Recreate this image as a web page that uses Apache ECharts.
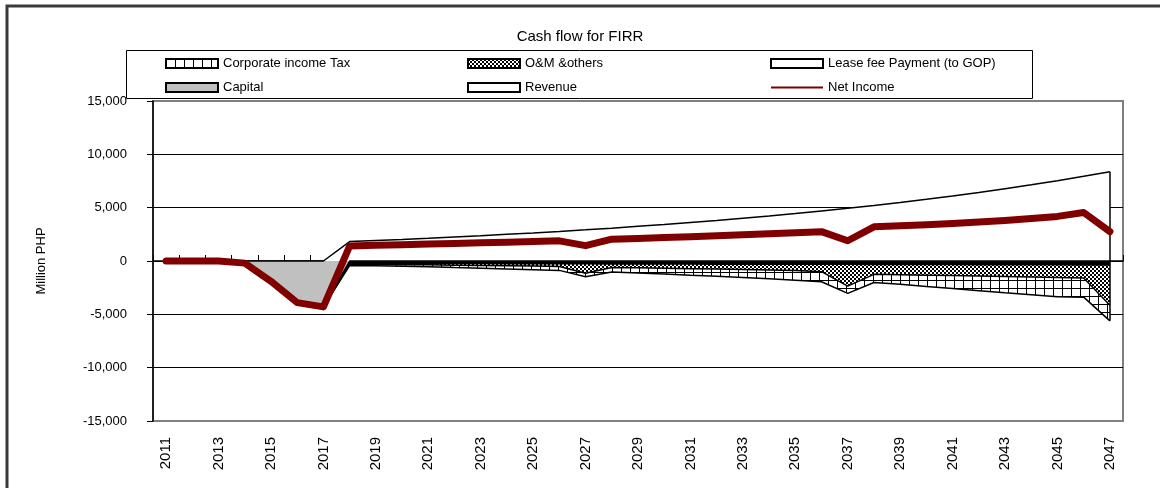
<!DOCTYPE html>
<html>
<head>
<meta charset="utf-8">
<title>Cash flow for FIRR</title>
<script src="https://cdn.jsdelivr.net/npm/echarts@6/dist/echarts.min.js"></script>
<style>
  html, body { margin: 0; padding: 0; background: #fff; }
  #chart { width: 1160px; height: 488px; }
</style>
</head>
<body>
<div id="chart"></div>
<script>
// categories
const years = ['2011', '2012', '2013', '2014', '2015', '2016', '2017', '2018', '2019', '2020',
  '2021', '2022', '2023', '2024', '2025', '2026', '2027', '2028', '2029', '2030',
  '2031', '2032', '2033', '2034', '2035', '2036', '2037', '2038', '2039', '2040',
  '2041', '2042', '2043', '2044', '2045', '2046', '2047']

// Million PHP
const capital = [0, 0, 0, -200, -1900, -3900, -4300,
  0, 0, 0, 0, 0, 0, 0, 0, 0, 0, 0, 0, 0, 0,
  0, 0, 0, 0, 0, 0, 0, 0, 0, 0, 0, 0, 0, 0, 0, 0]
const leaseFee = [0, 0, 0, 0, 0, 0, 0,
  -200, -200, -210, -210, -220, -220, -230, -230, -240, -240, -250, -250, -260, -260,
  -270, -270, -280, -280, -290, -290, -300, -300, -310, -310, -320, -320, -330, -330, -340, -340]
const omOthers = [0, 0, 0, 0, 0, 0, 0,
  -100, -120, -130, -150, -170, -200, -220, -250, -280, -910, -350, -390, -420, -460,
  -490, -530, -570, -620, -710, -2060, -950, -990, -1020, -1060, -1090, -1130, -1170, -1220, -1260, -3810]
const corpTax = [0, 0, 0, 0, 0, 0, 0,
  -120, -130, -150, -180, -220, -250, -290, -330, -360, -330, -430, -490, -540, -610,
  -670, -750, -820, -900, -940, -690, -760, -900, -1060, -1210, -1370, -1530, -1660, -1800, -1790, -1460]
const revenue = [0, 0, 0, 0, 0, 0, 0,
  1820, 1920, 2020, 2130, 2250, 2370, 2500, 2630, 2770, 2920, 3080, 3250, 3420, 3610,
  3800, 4010, 4220, 4450, 4690, 4940, 5210, 5490, 5790, 6100, 6430, 6780, 7140, 7530, 7940, 8360]
const netIncome = [0, 0, 0, -200, -1900, -3900, -4300,
  1400, 1470, 1530, 1590, 1640, 1700, 1760, 1820, 1890, 1440, 2050, 2120, 2200, 2280,
  2370, 2460, 2550, 2650, 2750, 1900, 3200, 3300, 3400, 3520, 3650, 3800, 3980, 4180, 4550, 2750]

// y axis ticks
const yTicks = [-15000, -10000, -5000, 0, 5000, 10000, 15000]

const FONT = "'Liberation Sans', Arial, sans-serif"

function makePattern(w, h, draw) {
  const c = document.createElement('canvas')
  c.width = w
  c.height = h
  const ctx = c.getContext('2d')
  ctx.fillStyle = '#fff'
  ctx.fillRect(0, 0, w, h)
  ctx.fillStyle = '#000'
  draw(ctx)
  return { image: c, repeat: 'repeat' }
}

const taxPattern = makePattern(9, 8, ctx => {
  ctx.fillRect(0, 0, 1, 8)
  ctx.fillRect(0, 0, 9, 1)
})
const checkPattern = makePattern(4, 4, ctx => {
  ctx.fillRect(0, 0, 2, 2)
  ctx.fillRect(2, 2, 2, 2)
})

const last = years.length - 1
const costBottom = leaseFee[last] + omOthers[last] + corpTax[last]

const chart = echarts.init(document.getElementById('chart'))

const legendBase = {
  orient: 'vertical',
  itemWidth: 52,
  itemHeight: 9,
  itemGap: 11,
  padding: 0,
  selectedMode: false,
  textStyle: { fontFamily: FONT, fontSize: 13, color: '#000' }
}
const box = (name, color) => ({
  name,
  icon: 'rect',
  itemStyle: { color, borderColor: '#000', borderWidth: 2 }
})

// costs share one stack, capital at the bottom like the original sheet
const areaSeries = (name, data, color, lineWidth) => ({
  name,
  type: 'line',
  stack: 'cost',
  data,
  symbol: 'none',
  silent: true,
  lineStyle: { color: '#000', width: lineWidth },
  areaStyle: { color, opacity: 1 }
})

chart.setOption({
  backgroundColor: '#fff',
  animation: false,
  title: {
    text: 'Cash flow for FIRR',
    left: 'center',
    top: 24,
    textStyle: { fontFamily: FONT, fontSize: 15, fontWeight: 'normal', color: '#000' }
  },
  graphic: [
    {
      type: 'rect',
      shape: { x: 7, y: 6, width: 1300, height: 700 },
      style: { fill: 'none', stroke: '#3a3a3a', lineWidth: 3 }
    },
    {
      type: 'rect',
      shape: { x: 126.5, y: 50.5, width: 906, height: 48 },
      style: { fill: '#fff', stroke: '#000', lineWidth: 1 }
    }
  ],
  legend: [
    { ...legendBase, left: 165, top: 57, data: [box('Corporate income Tax', taxPattern), box('Capital', '#c0c0c0')] },
    { ...legendBase, left: 467, top: 57, data: [box('O&M &others', checkPattern), box('Revenue', '#fff')] },
    {
      ...legendBase, left: 770, top: 57,
      data: [
        box('Lease fee Payment (to GOP)', '#fff'),
        { name: 'Net Income', icon: 'line', itemStyle: { color: '#800000', borderColor: '#800000', borderWidth: 2 } }
      ]
    }
  ],
  grid: {
    left: 153,
    right: 37,
    top: 101,
    bottom: 67,
    show: true,
    borderColor: '#808080',
    borderWidth: 2,
    backgroundColor: 'transparent',
    outerBoundsMode: 'none'
  },
  xAxis: [
    {
      type: 'category',
      data: years,
      boundaryGap: true,
      position: 'bottom',
      axisLine: { onZero: true, lineStyle: { color: '#000', width: 1.5 } },
      axisTick: { show: true, inside: true, length: 6, interval: 0, lineStyle: { color: '#000' } },
      axisLabel: { show: false },
      splitLine: { show: false }
    },
    {
      type: 'category',
      data: years,
      boundaryGap: true,
      position: 'bottom',
      axisLine: { show: false, onZero: false },
      axisTick: { show: false },
      axisLabel: { interval: 1, rotate: 90, margin: 16, fontFamily: FONT, fontSize: 15, color: '#000' },
      splitLine: { show: false }
    }
  ],
  yAxis: {
    type: 'value',
    min: yTicks[0],
    max: yTicks[yTicks.length - 1],
    interval: yTicks[1] - yTicks[0],
    name: 'Million PHP',
    nameLocation: 'middle',
    nameGap: 105,
    nameTextStyle: { fontFamily: FONT, fontSize: 13, color: '#000' },
    axisLine: { show: true, lineStyle: { color: '#000', width: 1.5 } },
    axisTick: { show: true, length: 6, lineStyle: { color: '#000' } },
    axisLabel: {
      margin: 26,
      fontFamily: FONT,
      fontSize: 13,
      color: '#000',
      formatter: v => v.toLocaleString('en-US')
    },
    splitLine: {
      show: true,
      lineStyle: { color: ['#808080', '#000', '#000', '#000', '#000', '#000', '#808080'], width: 1 }
    }
  },
  series: [
    areaSeries('Capital', capital, '#c0c0c0', 1.5),
    areaSeries('Lease fee Payment (to GOP)', leaseFee, '#000', 2),
    areaSeries('O&M &others', omOthers, checkPattern, 1.5),
    areaSeries('Corporate income Tax', corpTax, taxPattern, 1.5),
    {
      name: 'Revenue',
      type: 'line',
      data: revenue,
      symbol: 'none',
      silent: true,
      lineStyle: { color: '#000', width: 1.5 },
      areaStyle: { color: '#fff', opacity: 1 },
      markLine: {
        silent: true,
        symbol: ['none', 'none'],
        label: { show: false },
        lineStyle: { color: '#000', width: 1.5, type: 'solid' },
        data: [[{ coord: [years[last], revenue[last]] }, { coord: [years[last], costBottom] }]]
      }
    },
    {
      name: 'Net Income',
      type: 'line',
      data: netIncome,
      symbol: 'none',
      silent: true,
      z: 5,
      lineStyle: { color: '#800000', width: 7, join: 'round', cap: 'round' }
    }
  ]
})
</script>
</body>
</html>
